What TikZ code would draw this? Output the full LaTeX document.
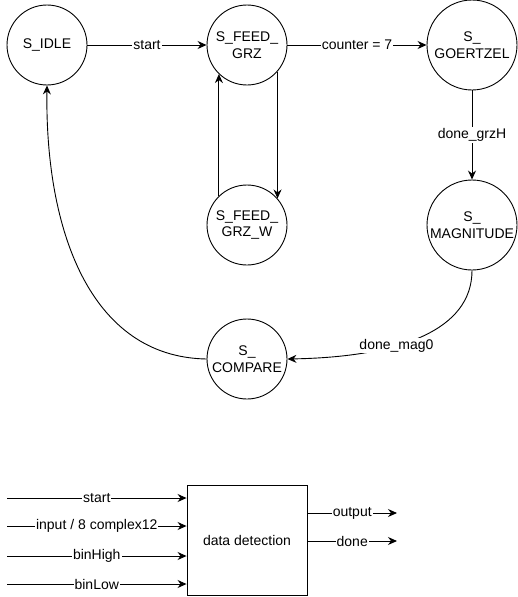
\documentclass[tikz,border=0pt]{standalone}
\usepackage{fontspec}
\setmainfont{Liberation Sans}
\usetikzlibrary{arrows.meta}
\begin{document}
\begin{tikzpicture}[x=1pt,y=-1pt,
  every node/.style={font=\fontsize{14}{16.5}\selectfont},
  st/.style={circle,draw,line width=0.9pt,minimum size=80pt,inner sep=0pt,align=center},
  stb/.style={st,minimum size=90pt},
  edge/.style={line width=0.9pt,-{Stealth[length=9pt,width=8pt,inset=3pt]}},
  lbl/.style={fill=white,inner sep=1pt},
  blk/.style={draw,line width=0.9pt,minimum width=120pt,minimum height=110pt,inner sep=0pt}]
\useasboundingbox (0,0) rectangle (518,597);
\node[st] (idle) at (47,45) {S\_IDLE};
\node[st] (grz) at (247,45) {S\_FEED\_\\GRZ};
\node[stb] (goe) at (472,45) {S\_\\GOERTZEL};
\node[st] (grzw) at (247,225) {S\_FEED\_\\GRZ\_W};
\node[stb] (mag) at (472,225) {S\_\\MAGNITUDE};
\node[st] (cmp) at (247,359) {S\_\\COMPARE};

\draw[edge] (idle) -- node[lbl] {start} (grz);
\draw[edge] (grz) -- node[lbl] {counter = 7} (goe);
\draw[edge] (goe) -- node[lbl] {done\_grzH} (mag);
\draw[edge] (grzw.134) -- (grz.226);
\draw[edge] (grz.-41.4) -- (grzw.41.4);
\draw[edge] (mag.south) .. controls (472,330) and (400,357) .. node[lbl,pos=0.62] {done\_mag0} (cmp.east);
\draw[edge] (cmp.west) .. controls (90,357) and (45,230) .. (idle.south);

\node[blk] (dd) at (247,540) {data detection};
\coordinate (i1) at (7,498);
\coordinate (i2) at (7,526);
\coordinate (i3) at (7,556);
\coordinate (i4) at (7,584);
\coordinate (o1) at (397,513);
\coordinate (o2) at (397,541);
\draw[edge] (i1) -- node[lbl] {start} (i1 -| dd.west);
\draw[edge] (i2) -- node[lbl] {input / 8 complex12} (i2 -| dd.west);
\draw[edge] (i3) -- node[lbl] {binHigh} (i3 -| dd.west);
\draw[edge] (i4) -- node[lbl] {binLow} (i4 -| dd.west);
\draw[edge] (o1 -| dd.east) -- node[lbl] {output} (o1);
\draw[edge] (o2 -| dd.east) -- node[lbl] {done} (o2);
\end{tikzpicture}
\end{document}
